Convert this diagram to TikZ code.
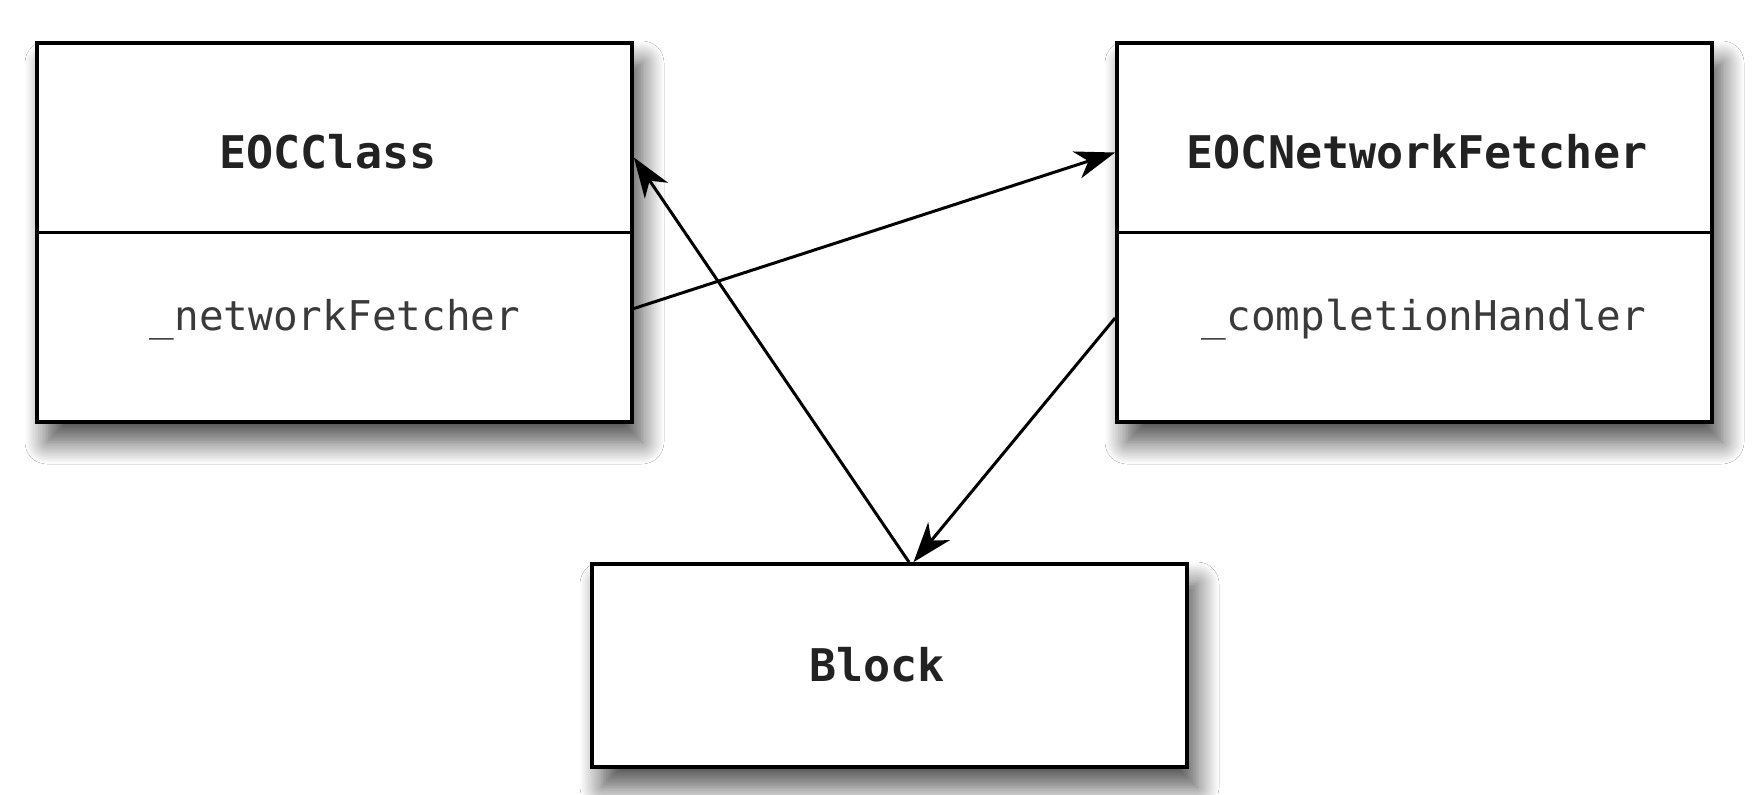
\documentclass[tikz,border=0pt]{standalone}
\usepackage{fontspec}
\setmonofont{DejaVu Sans Mono}
\usetikzlibrary{shadows.blur,arrows.meta,calc}
\definecolor{titlecol}{HTML}{222222}
\definecolor{fieldcol}{HTML}{3A3A3A}
\tikzset{
  boxshadow/.style={blur shadow={shadow xshift=5pt, shadow yshift=-10pt, shadow blur radius=11pt, shadow blur steps=14, shadow opacity=70}},
  classbox/.style={draw=black, line width=1.9pt, fill=white, minimum width=297.5pt, minimum height=189.5pt, inner sep=0pt, boxshadow},
  blockbox/.style={draw=black, line width=1.9pt, fill=white, minimum width=297.5pt, minimum height=101.5pt, inner sep=0pt, boxshadow},
  divider/.style={line width=1.8pt},
  title/.style={font=\ttfamily\bfseries\fontsize{22.5pt}{26pt}\selectfont, text=titlecol, inner sep=0pt},
  field/.style={font=\ttfamily\fontsize{20.5pt}{24pt}\selectfont, text=fieldcol, inner sep=0pt},
  arr/.style={line width=1.5pt, -{Stealth[length=20pt,width=14pt,inset=6pt]}}
}
\begin{document}
\begin{tikzpicture}[x=0.5pt,y=-0.5pt]
\useasboundingbox (0,0) rectangle (1764,794);
\fill[white] (0,0) rectangle (1764,794);
% boxes
\node[classbox] (cls) at (334.5,232.5) {};
\node[classbox] (net) at (1414.5,232.5) {};
\node[blockbox] (blk) at (889.5,665.5) {};
\draw[divider] (cls.west) -- (cls.east);
\draw[divider] (net.west) -- (net.east);
% texts
\node[title] (clsname) at (328,152) {EOCClass};
\node[field] (clsfield) at (335,320) {\_networkFetcher};
\node[title] (netname) at (1417,152) {EOCNetworkFetcher};
\node[field] (netfield) at (1424,320) {\_completionHandler};
\node[title] (blkname) at (877,665) {Block};
% connectors
\draw[arr] ([yshift=-38pt]cls.east) -- ([yshift=40pt]net.west);
\draw[arr] ([xshift=9.75pt]blk.north) -- ([yshift=37.5pt]cls.east);
\draw[arr] ([yshift=-42.75pt]net.west) -- ([xshift=12pt]blk.north);
\end{tikzpicture}
\end{document}
